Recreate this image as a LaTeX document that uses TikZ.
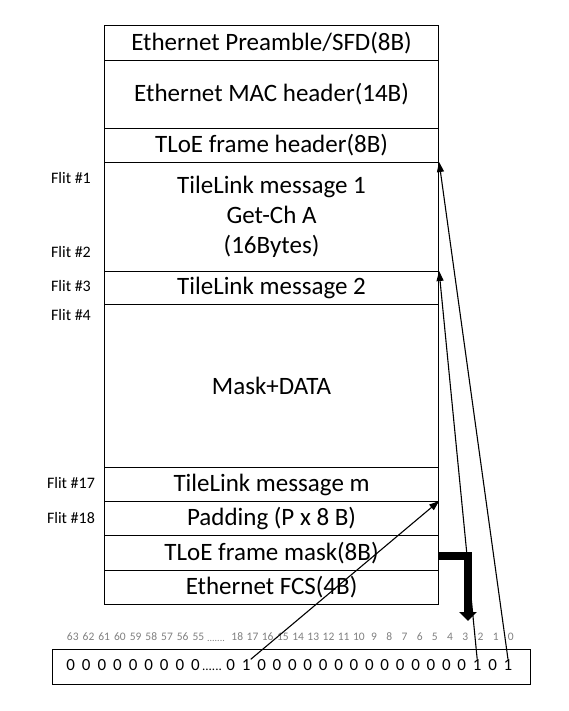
\documentclass[tikz,border=0pt]{standalone}
\usepackage{fontspec}
\setmainfont{Carlito}
\usetikzlibrary{arrows.meta}
\definecolor{labgrey}{RGB}{128,128,128}
\tikzset{
  row/.style={draw=black, line width=1.1pt, minimum width=334pt, anchor=north west, inner sep=0pt,
              font=\fontsize{25}{30}\selectfont, align=center},
  flit/.style={font=\fontsize{16}{18}\selectfont, inner sep=0pt},
  blab/.style={font=\fontsize{11.5}{13}\selectfont, text=labgrey, inner sep=0pt},
  val/.style={font=\fontsize{17}{19}\selectfont, inner sep=0pt},
  ptr/.style={line width=1.1pt, -{Triangle[length=10pt,width=7pt]}},
  bigarrow/.style={line width=8pt, line join=miter, -{Triangle[length=9pt,width=17pt]}}
}
\begin{document}
\begin{tikzpicture}[x=1pt,y=-1pt]
\useasboundingbox (0,0) rectangle (568,711);
% frame rows
\node[row, minimum height=35pt] (pre) at (104,25) {Ethernet Preamble/SFD(8B)};
\node[row, minimum height=68pt] (mac) at (104,60) {Ethernet MAC header(14B)};
\node[row, minimum height=34pt] (hdr) at (104,128) {TLoE frame header(8B)};
\node[row, minimum height=109pt] (tl1) at (104,162) {TileLink message 1\\Get-Ch A\\(16Bytes)};
\node[row, minimum height=33pt] (tl2) at (104,271) {TileLink message 2};
\node[row, minimum height=163pt] (data) at (104,304) {Mask+DATA};
\node[row, minimum height=34pt] (tlm) at (104,467) {TileLink message m};
\node[row, minimum height=34pt] (pad) at (104,501) {Padding (P x 8 B)};
\node[row, minimum height=35pt] (mask) at (104,535) {TLoE frame mask(8B)};
\node[row, minimum height=34pt] (fcs) at (104,570) {Ethernet FCS(4B)};
% flit labels
\node[flit] (f1) at (71,178) {Flit \#1};
\node[flit] (f2) at (71,252) {Flit \#2};
\node[flit] (f3) at (71,286) {Flit \#3};
\node[flit] (f4) at (71,315) {Flit \#4};
\node[flit] (f17) at (71,483) {Flit \#17};
\node[flit] (f18) at (71,518) {Flit \#18};
% bit index labels
\foreach \l [count=\i from 0] in {63,62,61,60,59,58,57,56,55}
  \node[blab] (lb\l) at ({72.8+15.7*\i},637) {\l};
\node[blab, anchor=base, font=\fontsize{10}{12}\selectfont] (ldots) at (216,641) {.......};
\foreach \l [count=\i from 0] in {18,17,16,15,14,13,12,11,10,9,8,7,6,5,4,3,2,1,0}
  \node[blab] (lb\l) at ({237.3+15.2*\i},637) {\l};
% mask register
\node[draw=black, line width=1.2pt, minimum width=478pt, minimum height=35pt, anchor=north west, inner sep=0pt] (reg) at (52,649) {};
\foreach \i in {0,...,8}
  \node[val] (u\i) at ({70.7+15.6*\i},665) {0};
\node[val, anchor=base, font=\fontsize{13}{15}\selectfont] (vdots) at (212,670.4) {......};
\foreach \b [count=\i from 0] in {0,1,0,0,0,0,0,0,0,0,0,0,0,0,0,0,1,0,1}
  \node[val] (v\i) at ({230.8+15.4*\i},665) {\b};
% pointers from mask bits to flits
\draw[ptr] (v18.north) -- (tl1.north east);
\draw[ptr] (v16.north) -- (tl2.north east);
\draw[ptr] (v1.north east) -- (pad.north east);
% thick arrow
\coordinate (dn) at (468,621);
\draw[bigarrow] ([yshift=-3pt]mask.east) -| (dn);
\end{tikzpicture}
\end{document}
